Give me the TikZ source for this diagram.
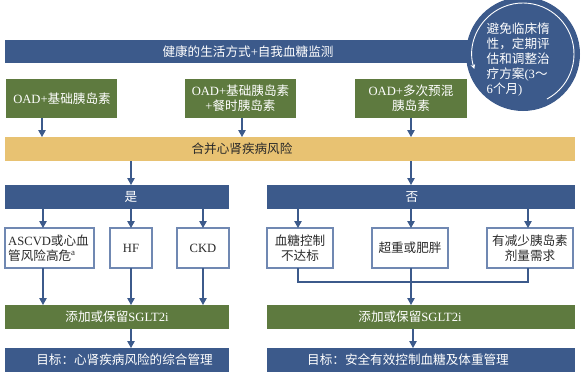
\documentclass[tikz,border=0pt]{standalone}
\usepackage{fontspec}
\setmainfont{Noto Sans CJK SC}
\newfontfamily\lat{Liberation Serif}
\usetikzlibrary{arrows.meta}
\definecolor{dblue}{HTML}{3C5A8B}
\definecolor{dgreen}{HTML}{5E7A3F}
\definecolor{ygold}{HTML}{E8C272}
\definecolor{bord}{HTML}{7088B2}
\definecolor{arr}{HTML}{3C5A8B}
\definecolor{txt}{HTML}{2A2A2A}
\begin{document}
\begin{tikzpicture}[x=1pt,y=-1pt,
  font=\fontsize{12.6}{15}\selectfont,
  bar/.style={draw=none,inner sep=0pt,outer sep=0pt},
  bluebar/.style={bar,fill=dblue},
  greenbar/.style={bar,fill=dgreen},
  goldbar/.style={bar,fill=ygold},
  whitebox/.style={draw=bord,line width=1.1pt,fill=white,inner sep=0pt,outer sep=0pt},
  wtext/.style={text=white,inner sep=0pt,align=center},
  dtext/.style={text=txt,inner sep=0pt,align=center},
  arrowline/.style={draw=arr,line width=1.1pt,-{Triangle[width=7.5pt,length=7pt]}},
  plainline/.style={draw=arr,line width=1.1pt},
]
\useasboundingbox (0,0) rectangle (586,376);

% ---- bars and boxes ----
\path[bluebar] (5,40) rectangle (490,63);
\node[bar,minimum width=485pt,minimum height=23pt] (top) at (247.5,51.5) {};
\node[wtext] (toptxt) at (248,51.5) {健康的生活方式{\lat+}自我血糖监测};

% circle
\node[circle,fill=dblue,minimum size=114pt,inner sep=0pt] (circ) at (523,54) {};
\draw[white,line width=0.9pt,-{Stealth[width=4.5pt,length=4.5pt]}] (circ.center) ++(62:51) arc[start angle=62,end angle=-197,radius=51];
\node[text=white,anchor=north west,align=left,inner sep=0pt,font=\fontsize{12.6}{15}\selectfont] (circtxt) at (486.5,23)
  {避免临床惰\\性，定期评\\估和调整治\\疗方案{\lat(3}～\\{\lat 6}个月{\lat)}};

% green row
\node[greenbar,minimum width=111pt,minimum height=39pt] (g1) at (61.5,98.5) {};
\node[wtext] (g1t) at (62,98.5) {{\lat OAD+}基础胰岛素};
\node[greenbar,minimum width=111pt,minimum height=39pt] (g2) at (240.5,98.5) {};
\node[wtext] (g2t) at (240.5,98.5) {{\lat OAD+}基础胰岛素\\{\lat +}餐时胰岛素};
\node[greenbar,minimum width=112pt,minimum height=39pt] (g3) at (411,98.5) {};
\node[wtext] (g3t) at (411,98.5) {{\lat OAD+}多次预混\\胰岛素};

% gold bar
\node[goldbar,minimum width=570pt,minimum height=24pt] (ybar) at (290,149) {};
\node[dtext] (ybart) at (242,149) {合并心肾疾病风险};

% yes / no
\node[bluebar,minimum width=224pt,minimum height=24pt] (yes) at (117,197) {};
\node[wtext] (yest) at (131,197) {是};
\node[bluebar,minimum width=308pt,minimum height=24pt] (no) at (421,197) {};
\node[wtext] (not) at (412,197) {否};

% left boxes
\node[whitebox,minimum width=89pt,minimum height=40pt] (b1) at (49.5,248) {};
\node[dtext,align=left] (b1t) at (48.5,248) {{\lat ASCVD}或心血\\管风险高危{\lat\textsuperscript{a}}};
\node[whitebox,minimum width=42pt,minimum height=40pt] (b2) at (131,248) {};
\node[dtext] (b2t) at (131,248) {\lat HF};
\node[whitebox,minimum width=52pt,minimum height=40pt] (b3) at (203,248) {};
\node[dtext] (b3t) at (203,248) {\lat CKD};

% right boxes
\node[whitebox,minimum width=66pt,minimum height=40pt] (r1) at (300,248) {};
\node[dtext] (r1t) at (300,248) {血糖控制\\不达标};
\node[whitebox,minimum width=76pt,minimum height=40pt] (r2) at (410,248) {};
\node[dtext] (r2t) at (410,248) {超重或肥胖};
\node[whitebox,minimum width=86pt,minimum height=40pt] (r3) at (530,248) {};
\node[dtext] (r3t) at (530,248) {有减少胰岛素\\剂量需求};

% SGLT2i bars
\node[greenbar,minimum width=224pt,minimum height=24pt] (lg) at (117,317) {};
\node[wtext] (lgt) at (117,317) {添加或保留{\lat SGLT2i}};
\node[greenbar,minimum width=308pt,minimum height=24pt] (rg) at (421,317) {};
\node[wtext] (rgt) at (410,317) {添加或保留{\lat SGLT2i}};

% targets
\node[bluebar,minimum width=224pt,minimum height=24pt] (lt) at (117,360) {};
\node[wtext] (ltt) at (124.5,360) {目标：心肾疾病风险的综合管理};
\node[bluebar,minimum width=308pt,minimum height=24pt] (rt) at (421,360) {};
\node[wtext] (rtt) at (408,360) {目标：安全有效控制血糖及体重管理};

% ---- connectors ----
\coordinate (c1) at (42,118);
\coordinate (c2) at (242,118);
\coordinate (c3) at (411,118);
\draw[arrowline] (c1) -- (c1 |- ybar.north);
\draw[arrowline] (c2) -- (c2 |- ybar.north);
\draw[arrowline] (c3) -- (c3 |- ybar.north);

\coordinate (d1) at (131,161);
\coordinate (d2) at (411,161);
\draw[arrowline] (d1) -- (d1 |- yes.north);
\draw[arrowline] (d2) -- (d2 |- no.north);

\coordinate (e1) at (43,209);
\coordinate (e2) at (131,209);
\coordinate (e3) at (203,209);
\draw[arrowline] (e1) -- (e1 |- b1.north);
\draw[arrowline] (e2) -- (b2.north);
\draw[arrowline] (e3) -- (b3.north);

\coordinate (f1) at (43,268);
\draw[arrowline] (f1) -- (f1 |- lg.north);
\draw[arrowline] (b2.south) -- (b2.south |- lg.north);
\draw[arrowline] (b3.south) -- (b3.south |- lg.north);

\coordinate (h1) at (131,329);
\draw[arrowline] (h1) -- (h1 |- lt.north);

\coordinate (k1) at (298,209);
\coordinate (k2) at (411,209);
\coordinate (k3) at (528,209);
\draw[arrowline] (k1) -- (k1 |- r1.north);
\draw[arrowline] (k2) -- (k2 |- r2.north);
\draw[arrowline] (k3) -- (k3 |- r3.north);

\coordinate (m1) at (298,268);
\coordinate (m2) at (411,268);
\coordinate (m3) at (528,268);
\coordinate (mj) at (411,282);
\draw[plainline] (m1) -- (298,282) -- (528,282) -- (m3);
\draw[plainline] (m2) -- (mj);
\draw[arrowline] (mj) -- (mj |- rg.north);

\coordinate (n1) at (413,329);
\draw[arrowline] (n1) -- (n1 |- rt.north);
\end{tikzpicture}
\end{document}
